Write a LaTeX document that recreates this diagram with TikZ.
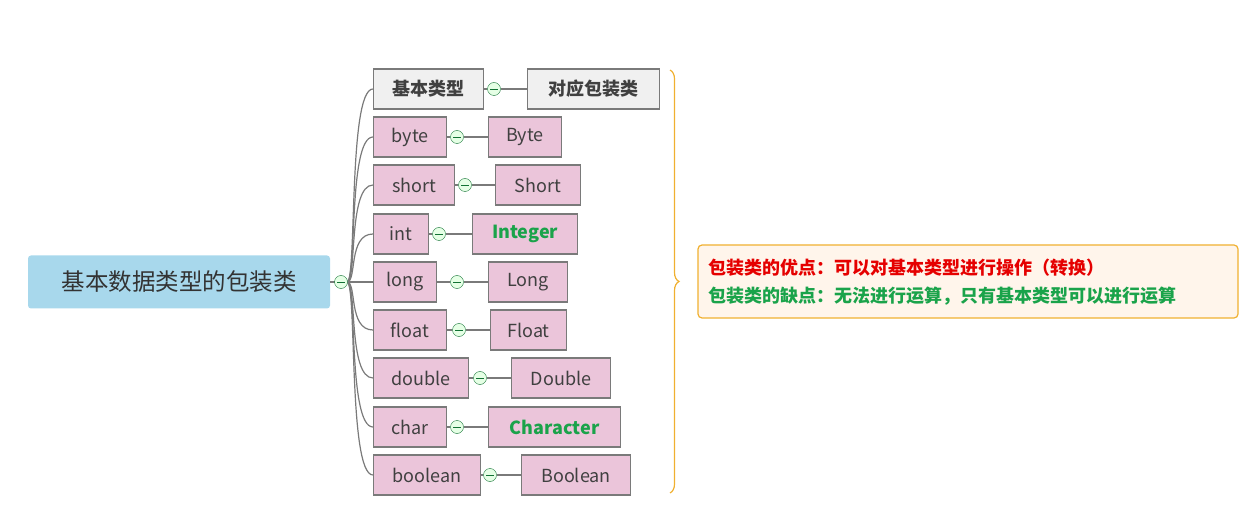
\documentclass[tikz,border=0pt]{standalone}
\usepackage{fontspec}
\setmainfont{Noto Sans CJK SC}
\usetikzlibrary{decorations.pathreplacing}
\definecolor{pinkf}{HTML}{EBC5DA}
\definecolor{bord}{HTML}{7A7A7A}
\definecolor{grn}{HTML}{1AA34A}
\definecolor{orng}{HTML}{F0B030}
\definecolor{rootf}{HTML}{A8D8EC}
\tikzset{
 box/.style={draw=bord,line width=1.2pt,fill=pinkf,anchor=west,minimum height=40pt,inner sep=0pt,font=\fontsize{18}{20}\selectfont,text=black!75},
 hbox/.style={box,fill=gray!12,font=\fontsize{18}{20}\selectfont\bfseries},
 knob/.style={circle,draw=grn!70!black,fill=green!10,minimum size=13pt,inner sep=0pt,path picture={\draw[grn!70!black,line width=0.8pt] ([xshift=-4pt]path picture bounding box.center) -- ([xshift=4pt]path picture bounding box.center);}},
 link/.style={draw=bord,line width=1.2pt},
}
\begin{document}
\begin{tikzpicture}[x=1pt,y=-1pt]
\useasboundingbox (0,0) rectangle (1252,510);
\node[fill=rootf,rounded corners=3pt,minimum width=302pt,minimum height=53pt,font=\fontsize{23.5}{26}\selectfont,text=black!80] (root) at (179,282) {基本数据类型的包装类};
\draw[link] (root.east) -- (335,282);
\foreach \nm/\y/\lw/\ltx/\cx/\rx/\rw/\rtx/\st in {
 h/89/110/基本类型/494/527/132/对应包装类/hbox,
 a/137/73/byte/457/488/73/Byte/box,
 b/185/81/short/465/495/85/Short/box,
 c/234/55/int/439/472/105/{\textcolor{grn}{\bfseries Integer}}/box,
 d/282/63/long/457/488/79/Long/box,
 e/330/73/float/459/490/76/Float/box,
 f/378/95/double/480/511/99/Double/box,
 g/427/73/char/457/488/132/{\textcolor{grn}{\bfseries Character}}/box,
 i/475/107/boolean/490/521/109/Boolean/box}{
 \node[\st,minimum width=\lw pt] (L\nm) at (373,\y) {\ltx};
 \node[\st,minimum width=\rw pt] (R\nm) at (\rx,\y) {\rtx};
 \node[knob] (K\nm) at (\cx,\y) {};
 \draw[link] (L\nm.east) -- (K\nm) -- (R\nm.west);
 \draw[link] (347,282) .. controls (357,282) and (348,\y) .. (L\nm.west);
}
\node[knob] (rk) at (341,282) {};
\draw[orng,line width=1.2pt,decorate,decoration={brace,amplitude=9pt}] (670,70) -- (670,493);
\node[draw=orng,line width=1.2pt,fill=orange!8,rounded corners=4pt,minimum width=540pt,minimum height=73pt,inner sep=0pt] (note) at (968,281.5) {};
\node[anchor=west,align=left,inner sep=0pt,font=\fontsize{18}{28}\selectfont\bfseries] (notetxt) at (708,282) {\textcolor{red!90!black}{包装类的优点：可以对基本类型进行操作（转换）}\\\textcolor{grn}{包装类的缺点：无法进行运算，只有基本类型可以进行运算}};
\end{tikzpicture}
\end{document}
